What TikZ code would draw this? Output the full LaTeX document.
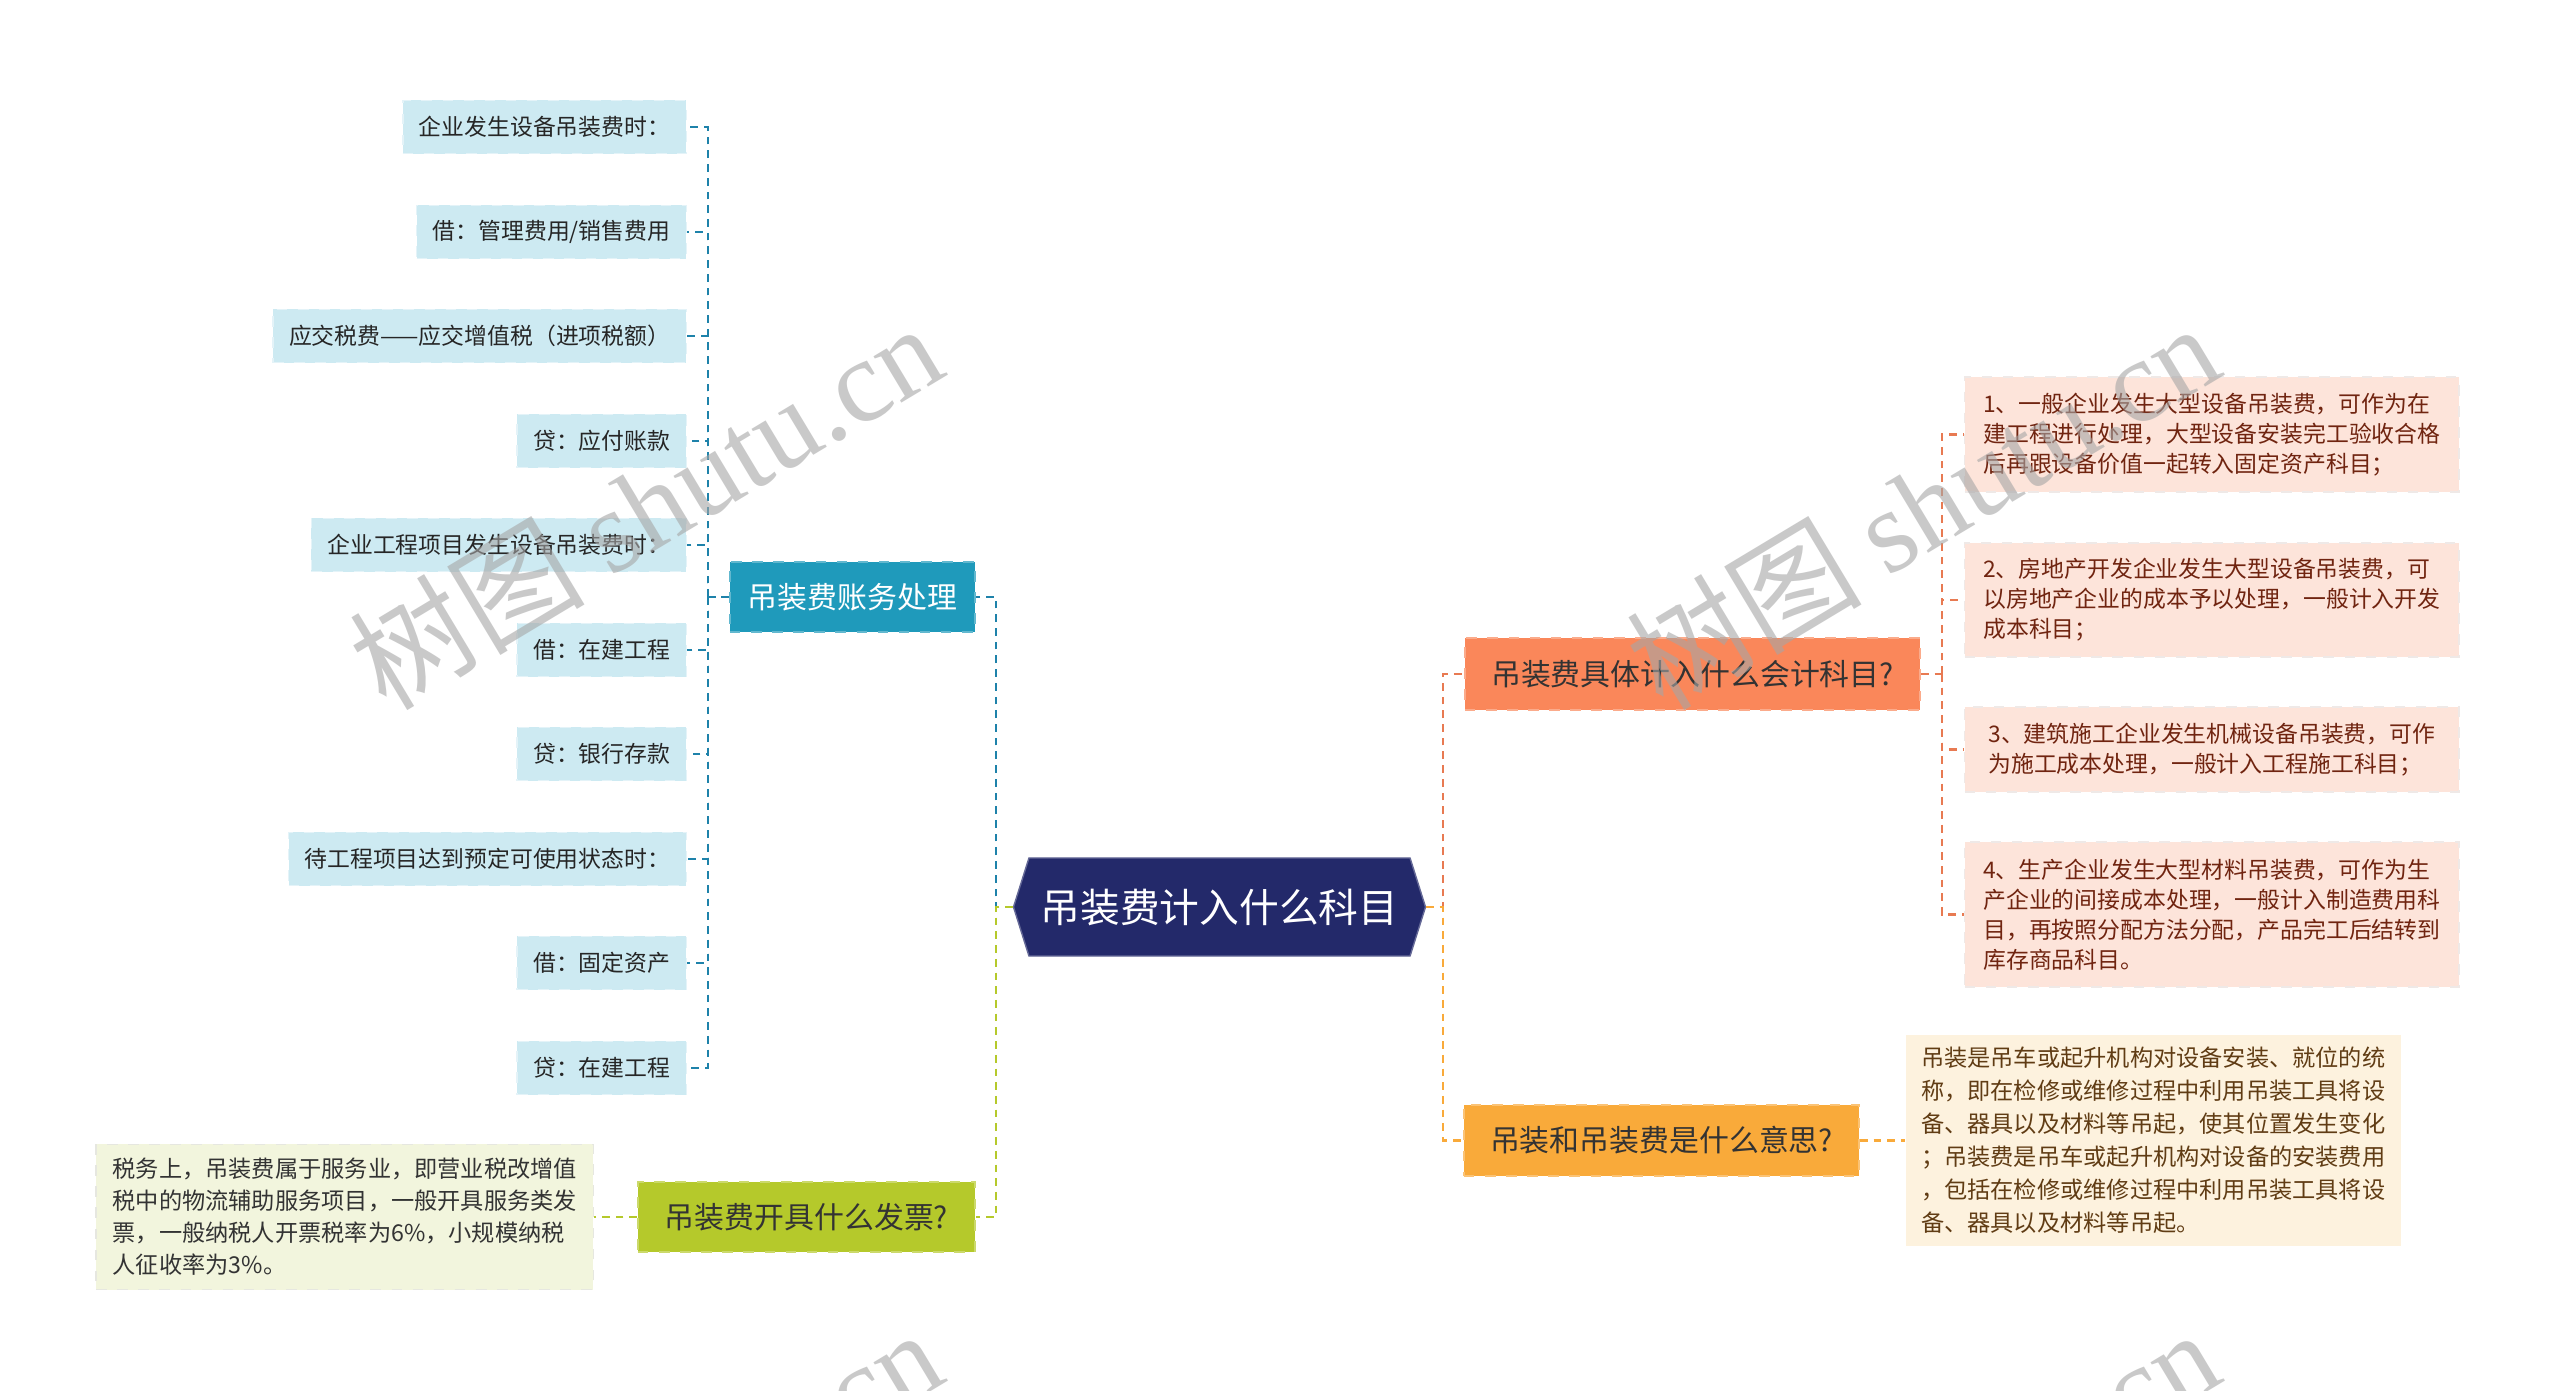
\documentclass[tikz,border=0pt]{standalone}
\usepackage{fontspec}
\setmainfont{Noto Sans CJK SC}
\newfontfamily\wmfont{Liberation Serif}
\usetikzlibrary{positioning, shapes.symbols}

\definecolor{rootc}{RGB}{35,41,106}
\definecolor{tealc}{RGB}{31,154,187}
\definecolor{tealln}{RGB}{30,130,170}
\definecolor{leafc}{RGB}{205,234,242}
\definecolor{greenc}{RGB}{181,201,43}
\definecolor{greenbox}{RGB}{242,245,221}
\definecolor{coralc}{RGB}{250,135,90}
\definecolor{coralln}{RGB}{232,122,82}
\definecolor{pinkbox}{RGB}{253,228,218}
\definecolor{pinktxt}{RGB}{112,36,16}
\definecolor{orangec}{RGB}{249,170,58}
\definecolor{creambox}{RGB}{253,242,222}
\definecolor{creamtxt}{RGB}{96,60,20}

\begin{document}
\begin{tikzpicture}[
    x=0.01cm, y=-0.01cm,
    rootbox/.style={signal, signal to=east and west, signal pointer angle=145, fill=rootc, draw=rootc!70!white,
        minimum width=4.05cm, minimum height=0.98cm, text=white, font=\fontsize{11.3}{13}\selectfont},
    branch/.style={rectangle, minimum height=0.70cm, inner xsep=0pt, font=\fontsize{8.5}{10}\selectfont},
    leaf/.style={rectangle, fill=leafc, draw=leafc!55!white, dashed, anchor=east, minimum height=0.53cm,
        inner xsep=0.16cm, text=black!85, font=\fontsize{6.5}{8}\selectfont},
    note/.style={rectangle, align=left, inner xsep=0.13cm, font=\fontsize{6.6}{9.1}\selectfont},
    lnk/.style={line width=0.6pt, dash pattern=on 2.2pt off 1.7pt},
    wmark/.style={text=gray!70, opacity=0.6, rotate=31, font=\fontsize{33.5}{34}\selectfont}
  ]
  \fill[white] (0,0) rectangle (2560,1391);
  \useasboundingbox (0,0) rectangle (2560,1391);

  % root and main branches
  \node[rootbox] (root) at (1219.5,907) {吊装费计入什么科目};
  \node[branch, fill=tealc, draw=tealc!70!white, dashed, text=white, minimum width=2.45cm] (acct) at (852.5,597) {吊装费账务处理};
  \node[branch, fill=greenc, draw=greenc!70!white, dashed, text=black!80, minimum width=3.37cm] (inv) at (806.5,1217) {吊装费开具什么发票?};
  \node[branch, fill=coralc, draw=coralc!70!white, dashed, text=black!80, minimum width=4.55cm, minimum height=0.72cm] (cat) at (1692.5,674) {吊装费具体计入什么会计科目?};
  \node[branch, fill=orangec, draw=orangec!70!white, dashed, text=black!80, minimum width=3.95cm, minimum height=0.71cm] (mean) at (1661.5,1140.5) {吊装和吊装费是什么意思?};

  % accounting entries
  \node[leaf] (l1) at (687,127) {企业发生设备吊装费时：};
  \node[leaf] (l2) at (687,232) {借：管理费用/销售费用};
  \node[leaf] (l3) at (687,336) {应交税费——应交增值税（进项税额）};
  \node[leaf] (l4) at (687,441) {贷：应付账款};
  \node[leaf] (l5) at (687,545) {企业工程项目发生设备吊装费时：};
  \node[leaf] (l6) at (687,650) {借：在建工程};
  \node[leaf] (l7) at (687,754) {贷：银行存款};
  \node[leaf] (l8) at (687,859) {待工程项目达到预定可使用状态时：};
  \node[leaf] (l9) at (687,963) {借：固定资产};
  \node[leaf] (l10) at (687,1068) {贷：在建工程};

  % notes
  \node[note, fill=greenbox, draw=greenbox!80!black!40!white, dashed, text=black!80, minimum width=4.97cm, minimum height=1.45cm, left=0.43cm of inv] (tax) {税务上，吊装费属于服务业，即营业税改增值\\税中的物流辅助服务项目，一般开具服务类发\\票，一般纳税人开票税率为6\%，小规模纳税\\人征收率为3\%。};
  \node[note, fill=creambox, text=creamtxt, minimum width=4.95cm, minimum height=2.05cm, font=\fontsize{6.6}{9.4}\selectfont, right=0.45cm of mean] (mbox) {吊装是吊车或起升机构对设备安装、就位的统\\称，即在检修或维修过程中利用吊装工具将设\\备、器具以及材料等吊起，使其位置发生变化\\；吊装费是吊车或起升机构对设备的安装费用\\，包括在检修或维修过程中利用吊装工具将设\\备、器具以及材料等吊起。};
  \node[note, fill=pinkbox, draw=pinkbox!80!black!30!white, dashed, text=pinktxt, anchor=west, minimum width=4.94cm, minimum height=1.15cm, font=\fontsize{6.5}{8.5}\selectfont] (r1) at (1964,434.5) {1、一般企业发生大型设备吊装费，可作为在\\建工程进行处理，大型设备安装完工验收合格\\后再跟设备价值一起转入固定资产科目；};
  \node[note, fill=pinkbox, draw=pinkbox!80!black!30!white, dashed, text=pinktxt, anchor=west, minimum width=4.94cm, minimum height=1.14cm, font=\fontsize{6.5}{8.5}\selectfont] (r2) at (1964,600) {2、房地产开发企业发生大型设备吊装费，可\\以房地产企业的成本予以处理，一般计入开发\\成本科目；};
  \node[note, fill=pinkbox, draw=pinkbox!80!black!30!white, dashed, text=pinktxt, anchor=west, minimum width=4.94cm, minimum height=0.85cm, font=\fontsize{6.5}{8.5}\selectfont] (r3) at (1964,749.5) {3、建筑施工企业发生机械设备吊装费，可作\\为施工成本处理，一般计入工程施工科目；};
  \node[note, fill=pinkbox, draw=pinkbox!80!black!30!white, dashed, text=pinktxt, anchor=west, minimum width=4.94cm, minimum height=1.45cm, font=\fontsize{6.5}{8.5}\selectfont] (r4) at (1964,914.5) {4、生产企业发生大型材料吊装费，可作为生\\产企业的间接成本处理，一般计入制造费用科\\目，再按照分配方法分配，产品完工后结转到\\库存商品科目。};

  % elbow points
  \coordinate (lj) at (996,907);
  \coordinate (rj) at (1443,907);
  \coordinate (aj) at (708,597);
  \coordinate (cj) at (1942,674);

  % connectors
  \draw[lnk, tealln] (root.west) -- (lj) |- (acct.east);
  \draw[lnk, greenc] (root.west) -- (lj) |- (inv.east);
  \draw[lnk, coralln] (root.east) -- (rj) |- (cat.west);
  \draw[lnk, orangec] (root.east) -- (rj) |- (mean.west);
  \draw[lnk, tealln] (acct.west) -- (aj);
  \foreach \i in {1,...,10}
    \draw[lnk, tealln] (aj) |- (l\i.east);
  \draw[lnk, coralln] (cat.east) -- (cj);
  \foreach \i in {1,...,4}
    \draw[lnk, coralln] (cj) |- (r\i.west);
  \draw[lnk, greenc] (inv.west) -- (tax.east);
  \draw[lnk, orangec] (mean.east) -- (mbox.west);

  % watermarks
  \foreach \dx/\dy in {0/0, 1277/0, 0/1006, 1277/1006}
    \node[wmark] at (645+\dx,505+\dy) {树图 {\wmfont shutu.cn}};
\end{tikzpicture}
\end{document}
